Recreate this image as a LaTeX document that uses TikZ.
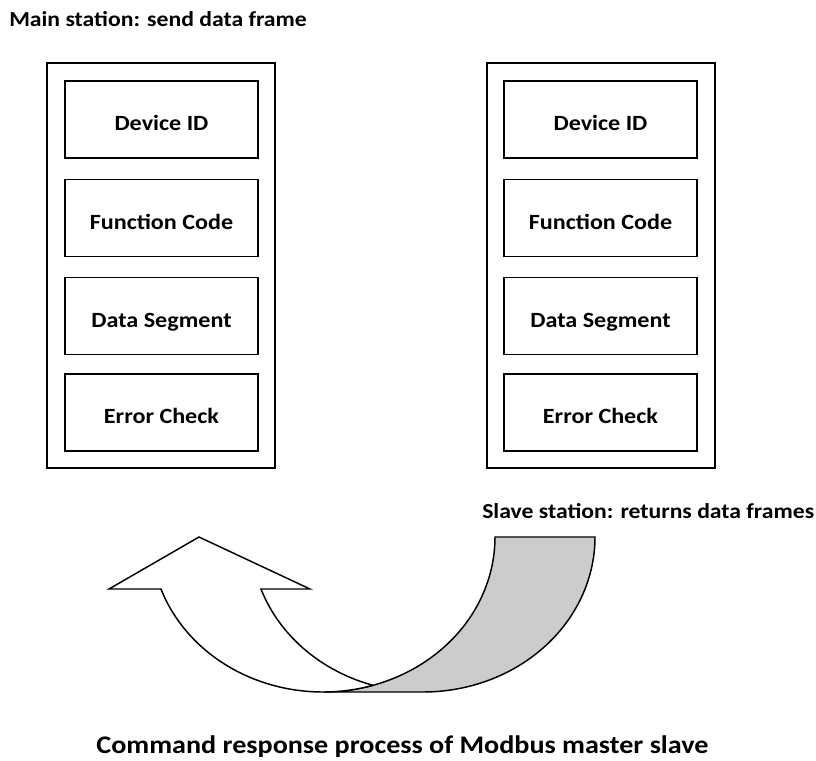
\documentclass[tikz,border=0pt]{standalone}
\usepackage{fontspec}
\setmainfont{Carlito}[FakeStretch=1.11]
\begin{document}
\begin{tikzpicture}[x=0.75pt,y=-0.75pt,
  outerbox/.style={draw,line width=1.1pt,minimum width=228*0.75pt,minimum height=405*0.75pt,inner sep=0pt},
  field/.style={draw,line width=1.1pt,minimum width=193*0.75pt,minimum height=77*0.75pt,inner sep=0pt,text height=17pt,text depth=0pt,font=\bfseries\fontsize{16.3}{18}\selectfont},
  lbl/.style={inner sep=0pt,font=\bfseries\fontsize{16}{18}\selectfont},
  caption/.style={inner sep=0pt,font=\bfseries\fontsize{19}{22}\selectfont},
  band/.style={draw,line width=1.1pt,line join=miter}]
\useasboundingbox (0,0) rectangle (816,760);
% left frame
\node[outerbox] (L) at (161,265.5) {};
\node[field] (L1) at (161.5,119.5) {Device ID};
\node[field] (L2) at (161.5,218) {Function Code};
\node[field] (L3) at (161.5,316) {Data Segment};
\node[field] (L4) at (161.5,412.5) {Error Check};
% right frame
\node[outerbox] (R) at (601,265.5) {};
\node[field] (R1) at (600.5,119.5) {Device ID};
\node[field] (R2) at (600.5,218) {Function Code};
\node[field] (R3) at (600.5,316) {Data Segment};
\node[field] (R4) at (600.5,412.5) {Error Check};
% labels
\node[lbl,anchor=west] (T1) at (9,19) {Main station: send data frame};
\node[lbl,anchor=west] (T2) at (482,511) {Slave station: returns data frames};
\node[caption] (C) at (402.5,747) {Command response process of Modbus master slave};
% curved arrow: back (gray) part
\draw[band,fill=black!20]
  (495,537) -- (595,537)
  -- plot[domain=0:90,samples=60] ({423+172*cos(\x)},{537+155*sin(\x)})
  -- (323,692)
  -- plot[domain=90:0,samples=60] ({323+172*cos(\x)},{537+155*sin(\x)}) -- cycle;
% front (white) part with head
\draw[band,fill=white]
  plot[domain=73.4:160.4,samples=60] ({323+172*cos(\x)},{537+155*sin(\x)})
  -- (109,589) -- (199,537) -- (310,589)
  -- plot[domain=160.4:107.2,samples=60] ({423+172*cos(\x)},{537+155*sin(\x)})
  -- cycle;
\end{tikzpicture}
\end{document}
